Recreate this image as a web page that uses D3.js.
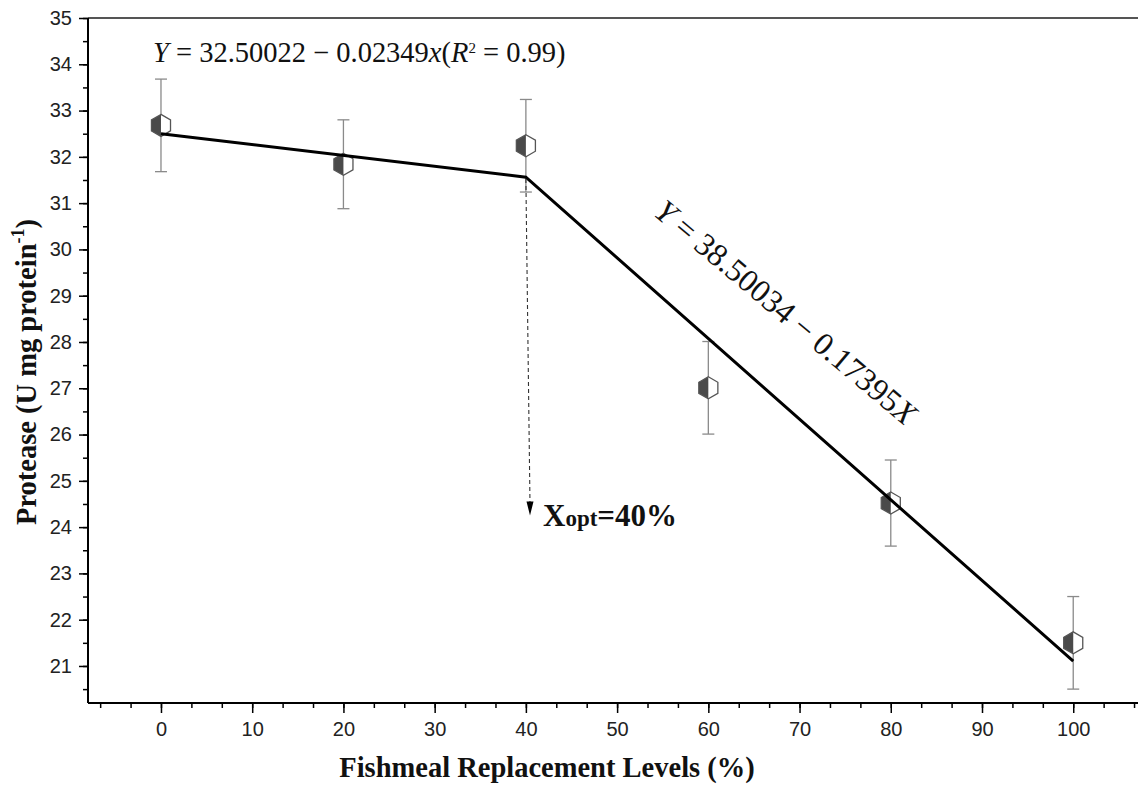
<!DOCTYPE html>
<html><head><meta charset="utf-8">
<script src="https://cdn.jsdelivr.net/npm/d3@7"></script>
<style>body{margin:0;background:#fff}svg{display:block}</style>
</head><body>
<svg id="chart" width="1138" height="785"></svg>
<script>
// ---- data ----
const levels = [0, 20, 40, 60, 80, 100];
const protease = [32.68, 31.84, 32.24, 27.01, 24.52, 21.50];
const errors = [1.00, 0.96, 1.00, 1.00, 0.93, 1.00];
const fitX = [0, 40, 100];
const fitY = [32.50022, 31.56062, 21.1053];
const xTicks = [0, 10, 20, 30, 40, 50, 60, 70, 80, 90, 100];
const yTicks = [21, 22, 23, 24, 25, 26, 27, 28, 29, 30, 31, 32, 33, 34, 35];
const arrowFrom = [40, 31.52];
const arrowTo = [40.45, 24.25];

const svg = d3.select("#chart");
const x = d3.scaleLinear().domain([-8, 107.1]).range([88, 1138]);
const y = d3.scaleLinear().domain([20.2, 35]).range([703, 18]);

// top border
svg.append("line").attr("x1", 88).attr("x2", 1138).attr("y1", 18).attr("y2", 18)
  .attr("stroke", "#555").attr("stroke-width", 2);

// x axis
const xMinor = d3.range(-2, 33).map(k => k * 10 / 3);
const gx = svg.append("g").attr("transform", "translate(0,703)");
gx.call(d3.axisBottom(x).tickValues(xMinor).tickSize(5).tickFormat(""));
gx.call(g => g.selectAll(".domain").remove());
const gx2 = svg.append("g").attr("transform", "translate(0,703)");
gx2.call(d3.axisBottom(x).tickValues(xTicks).tickSize(10).tickPadding(9).tickFormat(d3.format("d")));
gx2.select(".domain").attr("d", "M88,0H1138").attr("stroke-width", 2);
svg.selectAll("g .tick line").attr("stroke-width", 1.5);
gx2.selectAll("text").attr("font-family", "Liberation Sans, Arial, sans-serif")
  .attr("font-size", 20).attr("fill", "#222").attr("dy", "0.71em");

// y axis
const yMinor = d3.range(20.5, 35.01, 0.5);
const gy = svg.append("g").attr("transform", "translate(88,0)");
gy.call(d3.axisLeft(y).tickValues(yMinor).tickSize(5).tickFormat(""));
gy.call(g => g.selectAll(".domain").remove());
const gy2 = svg.append("g").attr("transform", "translate(88,0)");
gy2.call(d3.axisLeft(y).tickValues(yTicks).tickSize(9).tickPadding(7).tickFormat(d3.format("d")));
gy2.select(".domain").attr("d", "M0,703V18").attr("stroke-width", 2);
svg.selectAll("g .tick line").attr("stroke-width", 1.5);
gy2.selectAll("text").attr("font-family", "Liberation Sans, Arial, sans-serif")
  .attr("font-size", 20).attr("fill", "#222");

// error bars
const eb = svg.append("g").attr("stroke", "#8a8a8a").attr("stroke-width", 1.3);
levels.forEach((lv, i) => {
  const cx = x(lv), top = y(protease[i] + errors[i]), bot = y(protease[i] - errors[i]);
  eb.append("line").attr("x1", cx).attr("x2", cx).attr("y1", top).attr("y2", bot);
  eb.append("line").attr("x1", cx - 6).attr("x2", cx + 6).attr("y1", top).attr("y2", top);
  eb.append("line").attr("x1", cx - 6).attr("x2", cx + 6).attr("y1", bot).attr("y2", bot);
});

// markers (half-filled hexagons)
const r = 11, c30 = Math.cos(Math.PI / 6);
const hex = `M0,${-r}L${r*c30},${-r/2}L${r*c30},${r/2}L0,${r}L${-r*c30},${r/2}L${-r*c30},${-r/2}Z`;
const half = `M0,${-r}L${-r*c30},${-r/2}L${-r*c30},${r/2}L0,${r}Z`;
levels.forEach((lv, i) => {
  const g = svg.append("g").attr("transform", `translate(${x(lv)},${y(protease[i])})`);
  g.append("path").attr("d", hex).attr("fill", "#fff");
  g.append("path").attr("d", half).attr("fill", "#4a4a4a");
  g.append("path").attr("d", hex).attr("fill", "none").attr("stroke", "#555").attr("stroke-width", 1.3);
});

// fitted broken line
svg.append("path").datum(fitX.map((v, i) => [v, fitY[i]]))
  .attr("d", d3.line().x(d => x(d[0])).y(d => y(d[1])))
  .attr("fill", "none").attr("stroke", "#000").attr("stroke-width", 3);

// dashed arrow
const ax1 = x(arrowFrom[0]), ay1 = y(arrowFrom[1]), ax2 = x(arrowTo[0]), ay2 = y(arrowTo[1]);
svg.append("line").attr("x1", ax1).attr("y1", ay1).attr("x2", ax2).attr("y2", ay2 - 12)
  .attr("stroke", "#333").attr("stroke-width", 1.1).attr("stroke-dasharray", "4,3");
svg.append("path").attr("d", `M${ax2},${ay2}L${ax2 - 3.5},${ay2 - 14}L${ax2 + 3.5},${ay2 - 14}Z`).attr("fill", "#000");

// Xopt label
const xo = svg.append("text").attr("x", 543).attr("y", 526)
  .attr("font-family", "Liberation Serif, Times New Roman, serif").attr("font-weight", "bold").attr("fill", "#111");
xo.append("tspan").attr("font-size", 31).text("X");
xo.append("tspan").attr("font-size", 23).text("opt");
xo.append("tspan").attr("font-size", 31).text("=40%");

// equation 1
const eq1 = svg.append("text").attr("x", 153).attr("y", 62)
  .attr("font-family", "Liberation Serif, Times New Roman, serif").attr("font-size", 22).attr("fill", "#111");
eq1.append("tspan").attr("font-style", "italic").text("Y");
eq1.append("tspan").text(" = 32.50022 \u2212 0.02349");
eq1.append("tspan").attr("font-style", "italic").text("x");
eq1.append("tspan").text("(");
eq1.append("tspan").attr("font-style", "italic").text("R");
eq1.append("tspan").attr("font-size", 15).attr("dy", -9).text("2");
eq1.append("tspan").attr("dy", 9).text(" = 0.99)");
const w1 = eq1.node().getComputedTextLength();
eq1.attr("font-size", 22 * 415 / w1);

// equation 2 (rotated)
const eq2 = svg.append("text").attr("text-anchor", "middle").attr("dominant-baseline", "central")
  .attr("transform", "translate(786,312) rotate(40)")
  .attr("font-family", "Liberation Serif, Times New Roman, serif").attr("font-size", 26).attr("fill", "#111");
eq2.append("tspan").attr("font-style", "italic").text("Y");
eq2.append("tspan").text(" = 38.50034 \u2212 0.17395");
eq2.append("tspan").attr("font-style", "italic").text("X");
const w2 = eq2.node().getComputedTextLength();
eq2.attr("font-size", 26 * 330 / w2);

// axis titles
svg.append("text").attr("x", 547).attr("y", 777).attr("text-anchor", "middle")
  .attr("font-family", "Liberation Serif, Times New Roman, serif").attr("font-weight", "bold")
  .attr("font-size", 28.5).attr("fill", "#111").text("Fishmeal Replacement Levels (%)");

const yt = svg.append("text").attr("transform", "translate(36,372) rotate(-90)").attr("text-anchor", "middle")
  .attr("font-family", "Liberation Serif, Times New Roman, serif").attr("font-weight", "bold")
  .attr("font-size", 28.5).attr("fill", "#111");
yt.append("tspan").text("Protease (U mg protein");
yt.append("tspan").attr("font-size", 18).attr("dy", -12).text("-1");
yt.append("tspan").attr("dy", 12).text(")");
</script>
</body></html>
